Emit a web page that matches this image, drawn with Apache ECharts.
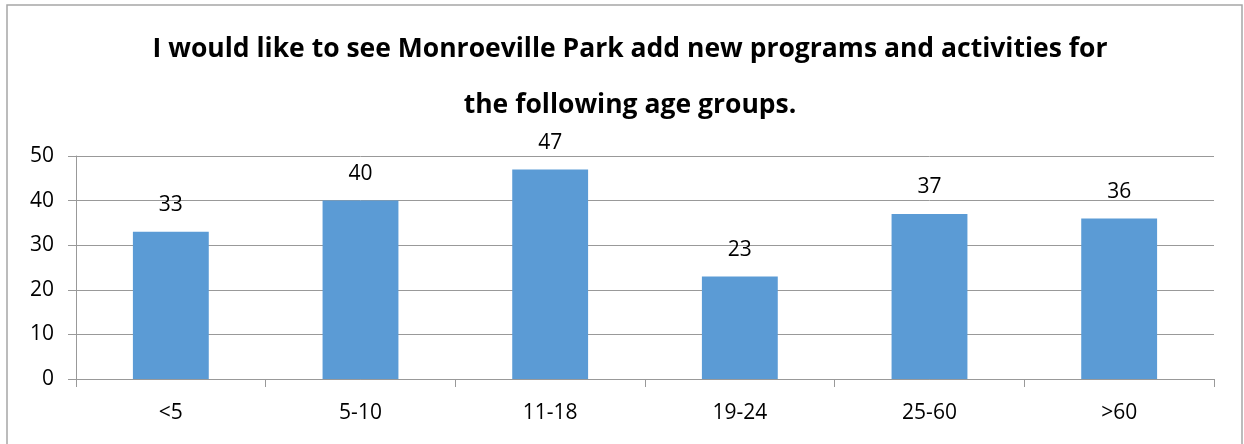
<!DOCTYPE html>
<html>
<head>
<meta charset="utf-8">
<script src="https://cdn.jsdelivr.net/npm/echarts@6/dist/echarts.min.js"></script>
<style>
  html, body { margin: 0; padding: 0; background: #fff; }
  #chart { width: 1244px; height: 444px; }
</style>
</head>
<body>
<div id="chart"></div>
<script>
const categories = ["<5", "5-10", "11-18", "19-24", "25-60", ">60"];
const responses = [33, 40, 47, 23, 37, 36];
const yTicks = [0, 10, 20, 30, 40, 50];

const chart = echarts.init(document.getElementById("chart"));
const font = "Open Sans";

chart.setOption({
  animation: false,
  graphic: [
    {
      type: "rect",
      shape: { x: 7, y: 5, width: 1235, height: 460 },
      style: { fill: "none", stroke: "#a6a6a6", lineWidth: 1.5 },
      silent: true,
    },
  ],
  title: {
    text: "I would like to see Monroeville Park add new programs and activities for\nthe following age groups.",
    left: 625,
    textAlign: "center",
    top: 16,
    textStyle: {
      fontFamily: font,
      fontWeight: "bold",
      fontSize: 26.5,
      lineHeight: 56,
      color: "#000",
    },
  },
  grid: { left: 76, right: 30, top: 156, bottom: 65 },
  xAxis: {
    type: "category",
    data: categories,
    axisLine: { lineStyle: { color: "#999", width: 1 } },
    axisTick: { show: true, length: 8, lineStyle: { color: "#999" } },
    axisLabel: { fontFamily: font, fontSize: 21, color: "#000", margin: 24 },
  },
  yAxis: {
    type: "value",
    min: yTicks[0],
    max: yTicks[yTicks.length - 1],
    interval: 10,
    axisLine: { show: true, lineStyle: { color: "#999", width: 1 } },
    axisTick: { show: true, length: 8, lineStyle: { color: "#999" } },
    splitLine: { lineStyle: { color: "#999", width: 1 } },
    axisLabel: { fontFamily: font, fontSize: 21, color: "#000", margin: 22 },
  },
  series: [
    {
      type: "bar",
      data: responses,
      barWidth: "40%",
      itemStyle: { color: "#5b9bd5" },
      label: {
        show: true,
        position: "top",
        distance: 16,
        fontFamily: font,
        fontSize: 21,
        color: "#000",
      },
    },
  ],
});
</script>
</body>
</html>
